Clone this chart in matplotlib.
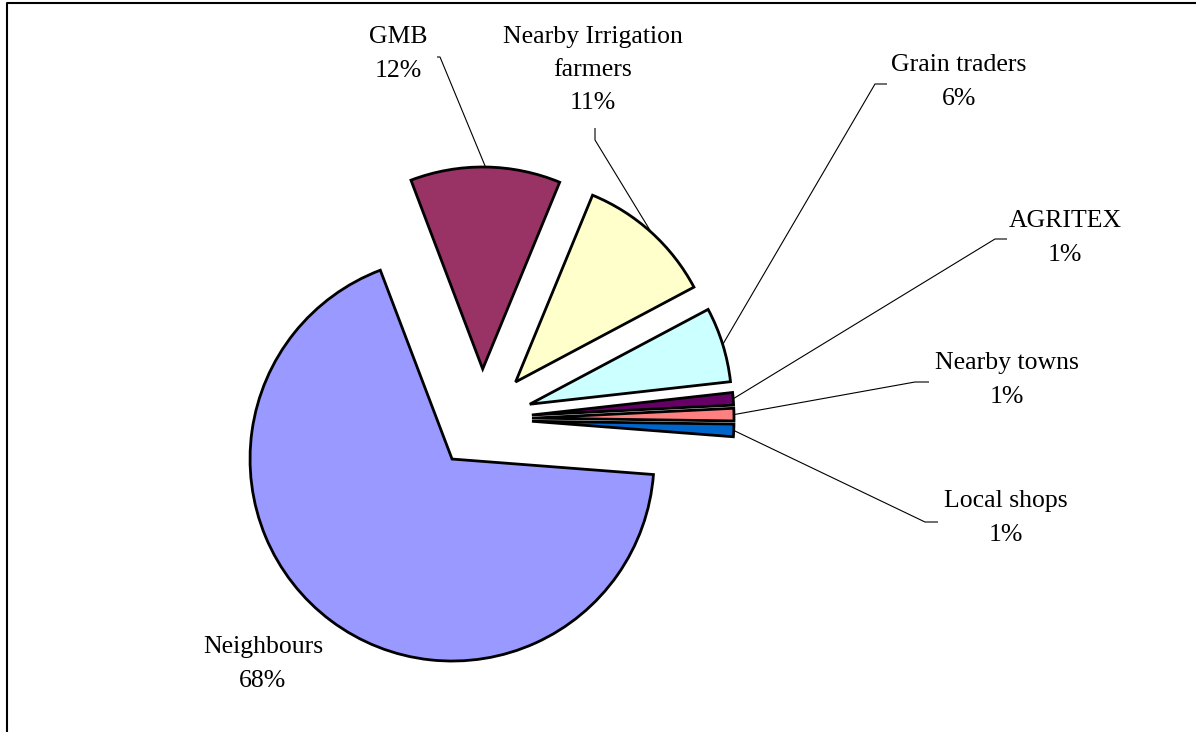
import matplotlib.pyplot as plt
import numpy as np

# sources of grain, share of responses (%)
sources = ['GMB', 'Nearby Irrigation\nfarmers', 'Grain traders', 'AGRITEX',
           'Nearby towns', 'Local shops', 'Neighbours']
shares = [12, 11, 6, 1, 1, 1, 68]
colors = ['#993366', '#FFFFCC', '#CCFFFF', '#660066', '#FF8080', '#0066CC', '#9999FF']

W, H = 1196, 732

# label block centres and leader-line elbows (pixel layout, y measured from top)
label_pos = [(398, 54), (593, 70), (959, 82), (1065, 238),
             (1007, 380), (1006, 518), (263, 664)]
elbows = [[(437, 57), (440, 57)],
          [(595, 128), (595, 140)],
          [(887, 84), (875, 84)],
          [(1007, 239), (995, 239)],
          [(929, 382), (915, 382)],
          [(938, 522), (925, 522)],
          None]

plt.rcParams['font.family'] = ['Liberation Serif', 'DejaVu Serif']

fig = plt.figure(figsize=(W / 100, H / 100), dpi=100)
ax = fig.add_axes([0, 0, 1, 1])

radius = 202
centre = (482, H - 419)
# pie explode is in data units here, since the radius is in pixels
wedges, _ = ax.pie(shares, colors=colors, radius=radius, center=centre,
                   explode=[50] * len(shares), startangle=110.8,
                   counterclock=False, frame=True,
                   wedgeprops=dict(edgecolor='black', linewidth=2))
ax.set_xlim(0, W)
ax.set_ylim(0, H)
ax.set_aspect('equal')
ax.axis('off')

for w, name, val, (lx, ly), elb in zip(wedges, sources, shares, label_pos, elbows):
    ax.text(lx, H - ly, '%s\n%d%%' % (name, val), ha='center', va='center',
            fontsize=18.5, linespacing=1.65, color='black')
    if elb is None:
        continue
    mid = np.deg2rad((w.theta1 + w.theta2) / 2)
    cx, cy = w.center
    ex, ey = cx + w.r * np.cos(mid), cy + w.r * np.sin(mid)
    xs = [p[0] for p in elb] + [ex]
    ys = [H - p[1] for p in elb] + [ey]
    ax.plot(xs, ys, color='black', lw=0.8, solid_capstyle='butt')

# chart-area frame
ax.plot([7, 7, W + 5], [-5, H - 3, H - 3], color='black', lw=1.5)

fig.savefig('out.png', dpi=100)
